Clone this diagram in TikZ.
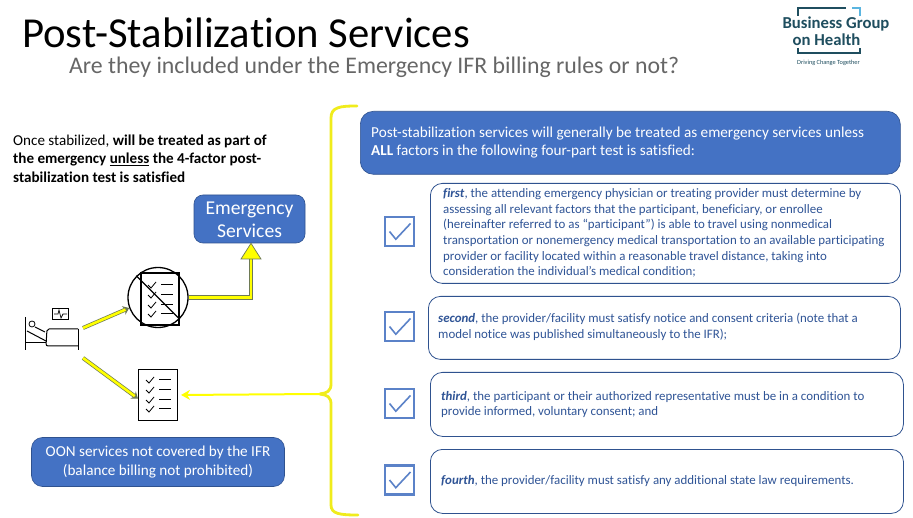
\documentclass[tikz,border=0pt]{standalone}
\usepackage{fontspec}
\setmainfont[Ligatures=NoCommon]{Carlito}
\usetikzlibrary{arrows.meta,calc}
\definecolor{bluefill}{HTML}{4472C4}
\definecolor{blueline}{HTML}{2F528F}
\definecolor{bluetext}{HTML}{2F5496}
\definecolor{chk}{HTML}{5B82C8}
\definecolor{yel}{HTML}{FFFF00}
\definecolor{yelb}{HTML}{F0EC1C}
\definecolor{yeledge}{HTML}{6E7A55}
\definecolor{logodark}{HTML}{1F4E5F}
\definecolor{logolight}{HTML}{5BB5E0}
\tikzset{
  bluebox/.style={draw=blueline,line width=0.6pt,fill=bluefill,text=white,rounded corners=#1,inner sep=0pt},
  bluebox/.default=9pt,
  factorbox/.style={draw=blueline,line width=0.8pt,rounded corners=12pt,fill=white,minimum width=#1,inner sep=0pt},
  factortext/.style={text=bluetext,font=\fontsize{12.9}{15.6}\selectfont,align=left,anchor=west,inner sep=0pt},
  checkbox/.style={draw=chk,line width=2.2pt,minimum size=29pt,inner sep=0pt},
  checkmark/.style={draw=chk,line width=1.6pt},
  ink/.style={draw=black,line width=1pt},
  yelarrow/.style={draw=yeledge,line width=4pt,-{Stealth[length=6pt,width=9pt]}},
  yelcore/.style={draw=yel,line width=2.6pt,shorten >=4pt},
  yelline/.style={draw=yelb,line width=2.8pt,line cap=round,line join=round},
}
\newcommand{\chkat}[2]{%
  \node[checkbox] (#1) at (#2) {};
  \draw[checkmark] ($(#1.center)+(-10,0)$) -- ($(#1.center)+(-3.7,7.7)$) -- ($(#1.center)+(11,-8)$);
}
\newcommand{\listdoc}[1]{%
  \foreach \dy in {-15,-5,5,14}{
    \draw[black,line width=0.8pt] ($(#1)+(-12,\dy)$) -- ($(#1)+(-9,\dy+3)$) -- ($(#1)+(-4,\dy-3)$);
    \draw[black,line width=1pt] ($(#1)+(1,\dy)$) -- ($(#1)+(13,\dy)$);
  }
}
\begin{document}
\begin{tikzpicture}[x=1pt,y=-1pt]
\useasboundingbox (0,0) rectangle (913,518);
\fill[white] (0,0) rectangle (913,518);

% Titles
\node[anchor=west,inner sep=0pt,text height=28pt,text depth=1pt,font=\fontsize{42.7}{44}\selectfont] (title) at (22,34) {Post-Stabilization Services};
\node[anchor=west,inner sep=0pt,font=\fontsize{23.8}{26}\selectfont,text=black!60] (subtitle) at (69,67.5) {Are they included under the Emergency IFR billing rules or not?};

% Logo
\node[inner sep=0pt,font=\bfseries\fontsize{16.7}{14}\selectfont,text=logodark] (logoa) at (836,24) {Business Group};
\node[inner sep=0pt,font=\bfseries\fontsize{16.7}{14}\selectfont,text=logodark] (logob) at (826.5,40) {on Health};
\node[inner sep=0pt,font=\fontsize{6.3}{7}\selectfont,text=logodark] (logotag) at (828.5,63) {Driving Change Together};
\draw[logodark,line width=1.2pt] (798,16) -- (798,8) -- (846,8);
\draw[logolight,line width=1.2pt] (852,8) -- (860,8) -- (860,16);
\draw[logodark,line width=1.2pt] (798,48) -- (798,53) -- (860,53) -- (860,48);

% Left text
\node[anchor=west,inner sep=0pt,align=left,font=\fontsize{15.1}{18.5}\selectfont] (lefttext) at (13,158.5)
 {Once stabilized, \textbf{will be treated as part of}\\\textbf{the emergency \underline{unless} the 4-factor post-}\\\textbf{stabilization test is satisfied}};

% Blue boxes
\node[bluebox=9pt,minimum width=111pt,minimum height=48pt] (emerg) at (249.5,219) {};
\node[inner sep=0pt,align=center,text=white,font=\fontsize{19.6}{23}\selectfont] (emergtext) at (249.5,220) {Emergency\\Services};
\node[bluebox=11pt,minimum width=253pt,minimum height=49pt,align=center,font=\fontsize{15.2}{18.5}\selectfont] (oon) at (158,462) {OON services not covered by the IFR\\(balance billing not prohibited)};
\node[bluebox=13pt,minimum width=540pt,minimum height=63pt,anchor=north west] (head) at (360,111) {};
\node[anchor=west,inner sep=0pt,align=left,text=white,font=\fontsize{15.2}{18}\selectfont] (headtext) at (371,143)
 {Post-stabilization services will generally be treated as emergency services unless\\\textbf{ALL} factors in the following four-part test is satisfied:};

% Factor boxes
\node[factorbox=470pt,minimum height=100pt,anchor=north west] (f1) at (430,183) {};
\node[factorbox=472pt,minimum height=63pt,anchor=north west] (f2) at (428,296) {};
\node[factorbox=473pt,minimum height=64pt,anchor=north west] (f3) at (430,372) {};
\node[factorbox=473pt,minimum height=64pt,anchor=north west] (f4) at (430,449) {};

\node[factortext] (t1) at (443,233) {\textbf{\textit{first}}, the attending emergency physician or treating provider must determine by\\assessing all relevant factors that the participant, beneficiary, or enrollee\\(hereinafter referred to as “participant”) is able to travel using nonmedical\\transportation or nonemergency medical transportation to an available participating\\provider or facility located within a reasonable travel distance, taking into\\consideration the individual’s medical condition;};
\node[factortext] (t2) at (438,327) {\textbf{\textit{second}}, the provider/facility must satisfy notice and consent criteria (note that a\\model notice was published simultaneously to the IFR);};
\node[factortext] (t3) at (441,404.5) {\textbf{\textit{third}}, the participant or their authorized representative must be in a condition to\\provide informed, voluntary consent; and};
\node[factortext] (t4) at (441,481) {\textbf{\textit{fourth}}, the provider/facility must satisfy any additional state law requirements.};

% Check boxes
\chkat{c1}{399.5,231.5}
\chkat{c2}{399.5,326.5}
\chkat{c3}{399.5,403.5}
\chkat{c4}{399.5,480}

% Bracket
\coordinate (brace) at (320,394);
\draw[yelline] (357,106) .. controls (340,106) and (331,107) .. (331,118) -- (331,384) .. controls (331,391) and (327,393) .. (brace);
\draw[yelline] (brace) .. controls (327,395) and (331,397) .. (331,404) -- (331,505) .. controls (331,514) and (340,515) .. (358,515);

% Patient
\draw[ink] (25,317) -- (25,350);
\draw[ink] (25,343) -- (46,343);
\draw[ink] (78,329) -- (78,350);
\draw[ink,rounded corners=2pt] (78,329) -- (47,329) -- (46,346) -- (78,346);
\draw[black,line width=0.8pt] (32,324) circle (3pt);
\draw[ink] (27,331) -- (46,341);
\draw[ink] (35,327) -- (45,332);
\node[draw=black,line width=0.9pt,minimum width=16pt,minimum height=11pt,inner sep=0pt] (monitor) at (60,313.5) {};
\draw[black,line width=0.7pt] (54,314) -- (58,314) -- (59,310) -- (61,318) -- (63,314) -- (67,314);
\coordinate (pt1) at (83,328);
\coordinate (pt2) at (83,358);

% Crossed document
\node[draw=black,line width=1.1pt,minimum width=38pt,minimum height=52pt,inner sep=0pt] (docx) at (160,299) {};
\listdoc{160,300}
\node[circle,draw=black,line width=1.3pt,minimum size=60pt,inner sep=0pt] (nocircle) at (158,297.5) {};
\draw[black,line width=1.3pt] (nocircle.135) -- (nocircle.-45);

% Document
\node[draw=black,line width=1.1pt,minimum width=39pt,minimum height=51pt,inner sep=0pt] (doc) at (158,395) {};
\listdoc{158,395}

% Yellow arrows
\draw[yelarrow] (pt1) -- (nocircle.-160);
\draw[yelcore] (pt1) -- (nocircle.-160);
\draw[yelarrow] (pt2) -- (doc.-170);
\draw[yelcore] (pt2) -- (doc.-170);

% Up arrow to Emergency Services
\draw[draw=yeledge,line width=4.4pt] (nocircle.east) -- (251,297.5) -- (251,258);
\draw[draw=yel,line width=2.8pt] (nocircle.east) -- (251,297.5) -- (251,257);
\draw[draw=yeledge,fill=yel,line width=0.7pt] (emerg.south -| 251,0) -- (261,259) -- (241,259) -- cycle;

% Arrow from bracket to doc
\draw[yel,line width=2pt,-{Stealth[length=9pt,width=10pt]},shorten >=3pt] (brace) -- (doc.east);
\end{tikzpicture}
\end{document}
